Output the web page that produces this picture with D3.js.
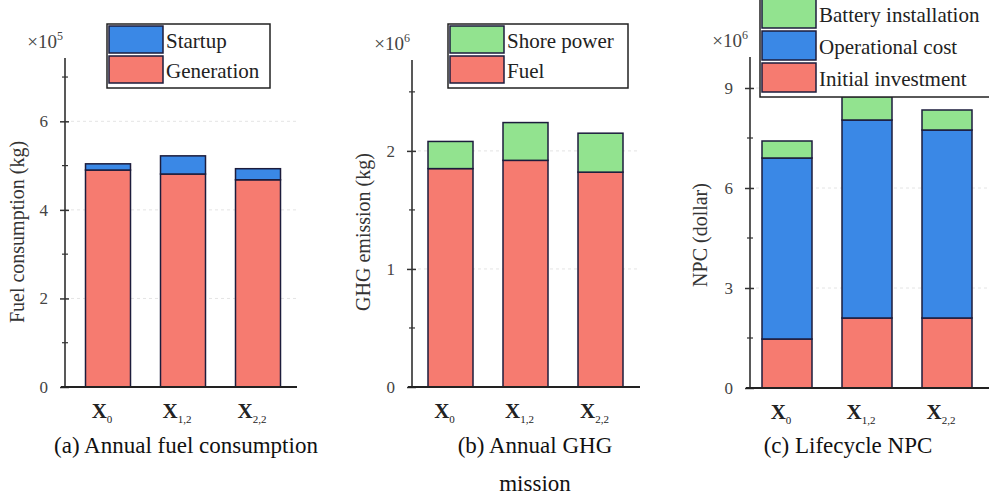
<!DOCTYPE html>
<html>
<head>
<meta charset="utf-8">
<script src="https://cdn.jsdelivr.net/npm/d3@7"></script>
<style>
  body { margin: 0; background: #fff; }
  svg { display: block; font-family: "Liberation Serif", "Times New Roman", serif; }
  text { font-family: "Liberation Serif", "Times New Roman", serif; }
</style>
</head>
<body>
<svg id="chart" width="989" height="496"></svg>
<script>
// scenarios and values
const scenarios = ["X0", "X1,2", "X2,2"]
const scenarioSubs = ["0", "1,2", "2,2"]

const fuelGeneration = [4.90, 4.81, 4.68]
const fuelStartup = [0.14, 0.41, 0.25]
const fuelTicks = [0, 2, 4, 6]
const fuelMinor = [1, 3, 5, 7]

const ghgFuel = [1.85, 1.92, 1.82]
const ghgShore = [0.23, 0.32, 0.33]
const ghgTicks = [0, 1, 2]
const ghgMinor = [0.5, 1.5, 2.5]

const npcInitial = [1.47, 2.10, 2.10]
const npcOperational = [5.43, 5.94, 5.64]
const npcBattery = [0.51, 0.70, 0.60]
const npcTicks = [0, 3, 6, 9]
const npcMinor = [1.5, 4.5, 7.5]

const RED = "#f67b70", BLUE = "#3a88e6", GREEN = "#92e38f", EDGE = "#1c1c3c"
const FONT = "Liberation Serif"

const svg = d3.select("#chart")

const drawPanel = (opt) => {
    let g = svg.append("g").attr("font-family", FONT)

    let x = d3.scaleBand()
        .domain(scenarios)
        .range(opt.xRange)
        .paddingInner(opt.padIn)
        .paddingOuter(opt.padOut)

    let y = d3.scaleLinear()
        .domain([0, opt.max])
        .range([opt.base, opt.top])

    // faint dashed grid
    g.selectAll(".grid")
        .data(opt.ticks.slice(1))
        .enter()
        .append("line")
        .attr("x1", opt.axisX).attr("x2", opt.xEnd)
        .attr("y1", d => y(d)).attr("y2", d => y(d))
        .attr("stroke", "#e4e4e4")
        .attr("stroke-dasharray", "3,3")

    // stacked bars
    let stack = d3.stack().keys(opt.keys)(scenarios.map((s, i) => {
        let row = { s: s }
        opt.keys.forEach((k, j) => row[k] = opt.series[j][i])
        return row
    }))

    stack.forEach((layer, j) => {
        g.selectAll(".bar" + j)
            .data(layer)
            .enter()
            .append("rect")
            .attr("x", d => x(d.data.s))
            .attr("width", x.bandwidth())
            .attr("y", d => y(d[1]))
            .attr("height", d => y(d[0]) - y(d[1]))
            .attr("fill", opt.colors[j])
            .attr("stroke", EDGE)
            .attr("stroke-width", 1.5)
    })

    // y axis
    let yAxis = g.append("g")
        .attr("transform", "translate(" + opt.axisX + ",0)")
        .call(d3.axisLeft(y).tickValues(opt.ticks).tickFormat(d3.format("d"))
            .tickSize(5).tickSizeOuter(0).tickPadding(12))
    yAxis.attr("font-family", FONT)
    yAxis.select(".domain").attr("d", "M0," + opt.base + "V" + opt.top).attr("stroke", "#222").attr("stroke-width", 1.5)
    yAxis.selectAll(".tick line").attr("x2", -5).attr("x1", 4).attr("stroke", "#333").attr("stroke-width", 1.5)
    yAxis.selectAll(".tick text").attr("font-size", 17).attr("fill", "#444")

    g.selectAll(".minor")
        .data(opt.minor)
        .enter()
        .append("line")
        .attr("x1", opt.axisX - 3).attr("x2", opt.axisX + 3)
        .attr("y1", d => y(d)).attr("y2", d => y(d))
        .attr("stroke", "#333").attr("stroke-width", 1.2)

    // x axis line
    g.append("line")
        .attr("x1", opt.axisX - 4).attr("x2", opt.xEnd)
        .attr("y1", opt.base).attr("y2", opt.base)
        .attr("stroke", "#222").attr("stroke-width", 2)

    // category labels
    let lab = g.selectAll(".xl")
        .data(scenarios)
        .enter()
        .append("text")
        .attr("x", d => x(d) + x.bandwidth() / 2 - 6)
        .attr("y", opt.base + 31)
        .attr("text-anchor", "middle")
        .attr("font-size", 21)
        .attr("font-weight", "bold")
        .attr("fill", "#222")
    lab.append("tspan").text("X")
    lab.append("tspan")
        .attr("dy", 5)
        .attr("font-size", 11)
        .attr("font-weight", "normal")
        .text((d, i) => scenarioSubs[i])

    // multiplier
    let m = g.append("text")
        .attr("x", opt.axisX - 2)
        .attr("y", opt.top - 10)
        .attr("text-anchor", "end")
        .attr("font-size", 19)
        .attr("fill", "#444")
    m.append("tspan").text("×10")
    m.append("tspan").attr("dy", -8).attr("font-size", 12).text(opt.exp)

    // y title
    g.append("text")
        .attr("transform", "translate(" + opt.titleX + "," + opt.titleY + ") rotate(-90)")
        .attr("text-anchor", "middle")
        .attr("font-size", opt.titleSize)
        .attr("fill", "#333")
        .text(opt.yTitle)

    // legend
    let L = opt.legend
    g.append("rect")
        .attr("x", L.x).attr("y", L.y)
        .attr("width", L.w).attr("height", L.rowH * L.items.length + 4)
        .attr("fill", "#fff")
        .attr("stroke", "#222").attr("stroke-width", 1.5)
    L.items.forEach((it, i) => {
        g.append("rect")
            .attr("x", L.x + 2).attr("y", L.y + 2 + i * L.rowH)
            .attr("width", 54).attr("height", L.rowH - 3)
            .attr("fill", it.color)
            .attr("stroke", EDGE).attr("stroke-width", 1.5)
        g.append("text")
            .attr("x", L.x + 59).attr("y", L.y + 2 + i * L.rowH + L.rowH * 0.72)
            .attr("font-size", 21)
            .attr("fill", "#222")
            .text(it.label)
    })

    // caption
    opt.caption.forEach((c, i) => {
        g.append("text")
            .attr("x", opt.capX).attr("y", 453 + i * 38)
            .attr("text-anchor", "middle")
            .attr("font-size", 23)
            .attr("fill", "#111")
            .text(c)
    })
}

drawPanel({
    xRange: [70.5, 295.5], padIn: 0.4, padOut: 0.2,
    axisX: 65, xEnd: 297, base: 387, top: 58, max: 7.43,
    ticks: fuelTicks, minor: fuelMinor, exp: "5",
    keys: ["gen", "start"], series: [fuelGeneration, fuelStartup], colors: [RED, BLUE],
    yTitle: "Fuel consumption (kg)", titleX: 24, titleY: 232, titleSize: 20,
    legend: { x: 107, y: 24, w: 163, rowH: 30, items: [{ label: "Startup", color: BLUE }, { label: "Generation", color: RED }] },
    caption: ["(a) Annual fuel consumption"], capX: 186
})

drawPanel({
    xRange: [413, 638], padIn: 0.4, padOut: 0.2,
    axisX: 412, xEnd: 640, base: 387, top: 60, max: 2.77,
    ticks: ghgTicks, minor: ghgMinor, exp: "6",
    keys: ["fuel", "shore"], series: [ghgFuel, ghgShore], colors: [RED, GREEN],
    yTitle: "GHG emission (kg)", titleX: 370, titleY: 232, titleSize: 20,
    legend: { x: 448, y: 24, w: 180, rowH: 30, items: [{ label: "Shore power", color: GREEN }, { label: "Fuel", color: RED }] },
    caption: ["(b) Annual GHG", "mission"], capX: 535
})

drawPanel({
    xRange: [750, 984], padIn: 0.375, padOut: 0.15,
    axisX: 750, xEnd: 989, base: 388, top: 57, max: 9.93,
    ticks: npcTicks, minor: npcMinor, exp: "6",
    keys: ["init", "op", "bat"], series: [npcInitial, npcOperational, npcBattery], colors: [RED, BLUE, GREEN],
    yTitle: "NPC (dollar)", titleX: 707, titleY: 235, titleSize: 20,
    legend: { x: 760, y: -3, w: 240, rowH: 32, items: [{ label: "Battery installation", color: GREEN }, { label: "Operational cost", color: BLUE }, { label: "Initial investment", color: RED }] },
    caption: ["(c) Lifecycle NPC"], capX: 848
})
</script>
</body>
</html>
